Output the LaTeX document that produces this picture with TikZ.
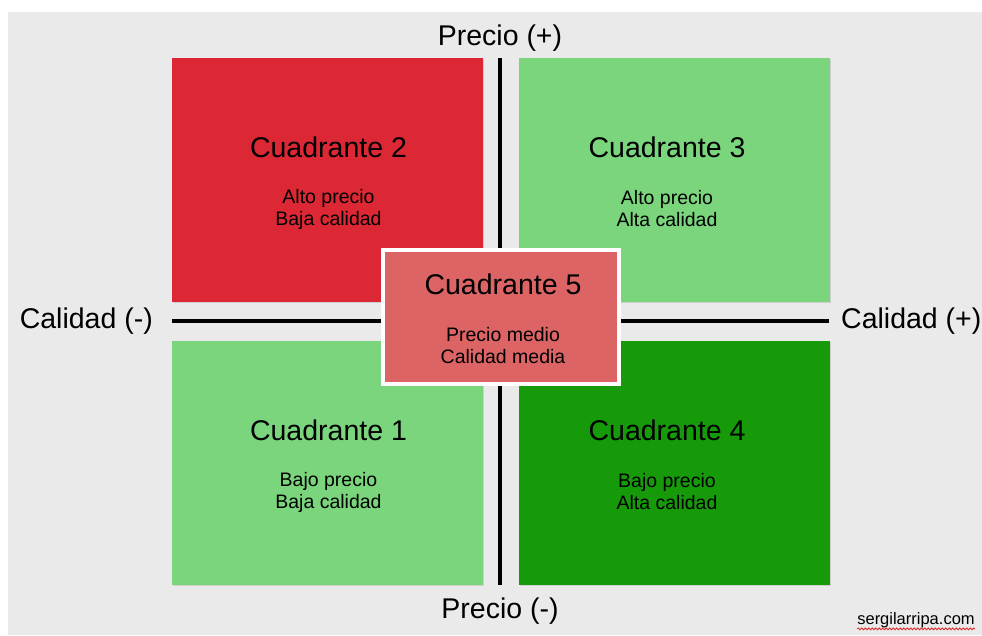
\documentclass[tikz,border=0pt]{standalone}
\usepackage{fontspec}
\setmainfont{Liberation Sans}
\usetikzlibrary{positioning, shadows, decorations.pathmorphing}
\definecolor{bggray}{RGB}{234,234,234}
\definecolor{redq}{RGB}{219,40,52}
\definecolor{lgreen}{RGB}{122,213,125}
\definecolor{dgreen}{RGB}{22,154,10}
\definecolor{midred}{RGB}{220,100,100}
\definecolor{wavyred}{RGB}{225,40,40}
\tikzstyle{quad}=[rectangle, minimum width=311pt, minimum height=244pt, inner sep=0pt, drop shadow={shadow xshift=1pt, shadow yshift=-1pt, opacity=0.25}]
\tikzstyle{midquad}=[rectangle, minimum width=236pt, minimum height=134pt, inner sep=0pt, draw=white, line width=4pt, fill=midred, drop shadow={shadow xshift=1.5pt, shadow yshift=-1.5pt, opacity=0.3}]
\tikzstyle{titletext}=[inner sep=0pt, font=\fontsize{28.5}{34}\selectfont]
\tikzstyle{subtext}=[inner sep=0pt, align=center, font=\fontsize{19.5}{22}\selectfont]
\tikzstyle{axislabel}=[inner sep=0pt, font=\fontsize{28.5}{34}\selectfont]
\tikzstyle{axis}=[line width=3.5pt, black]

\begin{document}
\begin{tikzpicture}[x=1pt, y=1pt]
    %page and grey slide
    \useasboundingbox (0,0) rectangle (982,635);
    \fill[white] (0,0) rectangle (982,635);
    \fill[bggray] (8,0) rectangle (982,623);

    %the axes
    \coordinate (ptop) at (500,577);
    \coordinate (pbot) at (500,50);
    \coordinate (cleft) at (172,314);
    \coordinate (cright) at (829,314);
    \draw[axis] (ptop) -- (pbot);
    \draw[axis] (cleft) -- (cright);

    %four quadrants
    \node[quad, fill=redq](q2) at (327.5,455){};
    \node[quad, fill=lgreen](q3) at (674,455){};
    \node[quad, fill=lgreen](q1) at (327.5,172){};
    \node[quad, fill=dgreen](q4) at (674,172){};
    \node[midquad](q5) at (501,318){};

    \foreach \n/\dx/\a/\b in {2/1/Alto precio/Baja calidad, 3/-7/Alto precio/Alta calidad, 1/1/Bajo precio/Baja calidad, 4/-7/Bajo precio/Alta calidad, 5/2/Precio medio/Calidad media}{
        \node[titletext](t\n) at ([xshift=\dx pt, yshift=33pt]q\n.center){Cuadrante \n};
        \node[subtext](s\n) at ([xshift=\dx pt, yshift=-29pt]q\n.center){\a\\\b};
    }

    %axis names
    \node[axislabel](pplus) at (500,597){Precio (+)};
    \node[axislabel](pminus) at (500,24){Precio (-)};
    \node[axislabel, left=19pt of cleft](cminus){Calidad (-)};
    \node[axislabel, right=12pt of cright](cplus){Calidad (+)};

    %watermark
    \node[inner sep=0pt, font=\fontsize{16.5}{20}\selectfont](wm) at (916,15){sergilarripa.com};
    \draw[wavyred, line width=0.8pt, decorate, decoration={snake, amplitude=0.9pt, segment length=3.5pt}]
        ([yshift=-1pt]wm.south west) -- ([yshift=-1pt]wm.south east);
\end{tikzpicture}
\end{document}
